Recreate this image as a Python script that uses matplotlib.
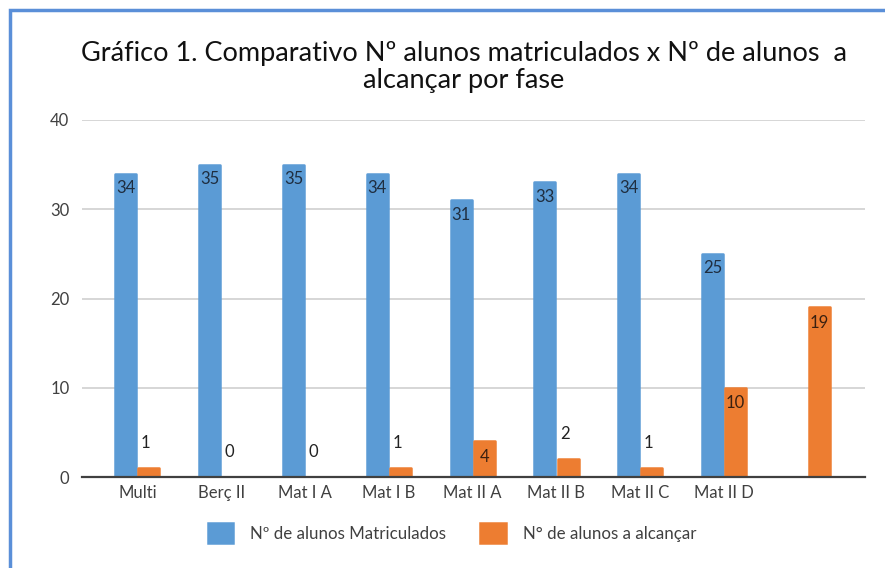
import matplotlib
matplotlib.use("Agg")
import matplotlib.pyplot as plt
from matplotlib.patches import Rectangle
import numpy as np

plt.rcParams['font.family'] = ['Lato', 'DejaVu Sans']

categories = ["Multi", "Berç II", "Mat I A", "Mat I B", "Mat II A", "Mat II B", "Mat II C", "Mat II D", ""]
matriculados = [34, 35, 35, 34, 31, 33, 34, 25, None]
alcancar = [1, 0, 0, 1, 4, 2, 1, 10, 19]
series_names = ["Nº de alunos Matriculados", "N° de alunos a alcançar"]
yticks = [0, 10, 20, 30, 40]
title = "Gráfico 1. Comparativo Nº alunos matriculados x Nº de alunos  a\nalcançar por fase"

blue = "#5B9BD5"
orange = "#ED7D31"

fig = plt.figure(figsize=(8.85, 5.68), dpi=100)
fig.patches.append(Rectangle((10/885, -0.1), 1.2, 1 - 10/568 + 0.1, transform=fig.transFigure,
                             fill=False, edgecolor="#5A8FD8", linewidth=2.5, zorder=10))

ax = fig.add_axes([82/885, 1 - 477/568, (865 - 82)/885, (477 - 120)/568])
x = np.arange(len(categories))
w = 0.275
wd = 0.25
bx = [xi - w/2 for xi, v in zip(x, matriculados) if v is not None]
bv = [v for v in matriculados if v is not None]
b1 = ax.bar(bx, bv, width=wd, color=blue, edgecolor=blue, linewidth=1.8, zorder=3,
            label=series_names[0])
b2 = ax.bar(x + w/2, alcancar, width=wd, color=orange, edgecolor=orange, linewidth=1.8, zorder=3,
            label=series_names[1])
for p in list(b1) + list(b2):
    p.set_joinstyle("round")

fs = 12
for xi, v in zip(bx, bv):
    ax.annotate(str(v), (xi, v), xytext=(0, -10.5), textcoords="offset points",
                ha="center", va="center", fontsize=fs, color="#1F2E40", zorder=5)
for xi, v in zip(x + w/2, alcancar):
    if v >= 4:
        ax.annotate(str(v), (xi, v), xytext=(0, -11), textcoords="offset points",
                    ha="center", va="center", fontsize=fs, color="#3A2010", zorder=5)
    else:
        ax.annotate(str(v), (xi - 0.04, v), xytext=(0, 18), textcoords="offset points",
                    ha="center", va="center", fontsize=fs, color="#222222", zorder=5)

ax.set_xlim(-0.66, 8.68)
ax.set_ylim(0, 40)
ax.set_yticks(yticks)
ax.set_xticks(x)
ax.set_xticklabels(categories)
ax.tick_params(axis="both", length=0, labelsize=12, labelcolor="#404040")
ax.tick_params(axis="y", pad=9)
ax.tick_params(axis="x", pad=6)
ax.grid(axis="y", color="#D0D0D0", linewidth=1.2, zorder=0)
for s in ["top", "right", "left"]:
    ax.spines[s].set_visible(False)
ax.spines["bottom"].set_color("#404040")
ax.spines["bottom"].set_linewidth(1.6)
ax.spines["bottom"].set_zorder(4)

fig.text(0.524, 1 - 67/568, title, ha="center", va="center", fontsize=19.5,
         color="#111111", linespacing=1.1)

fig.legend(handles=[b1, b2], loc="center", bbox_to_anchor=(452/885, 1 - 533/568), ncol=2,
           frameon=False, fontsize=12.2, handlelength=1.5, handleheight=1.4,
           columnspacing=2.0, handletextpad=1.0, labelcolor="#404040")

fig.savefig("out.png", dpi=100, facecolor="white")
